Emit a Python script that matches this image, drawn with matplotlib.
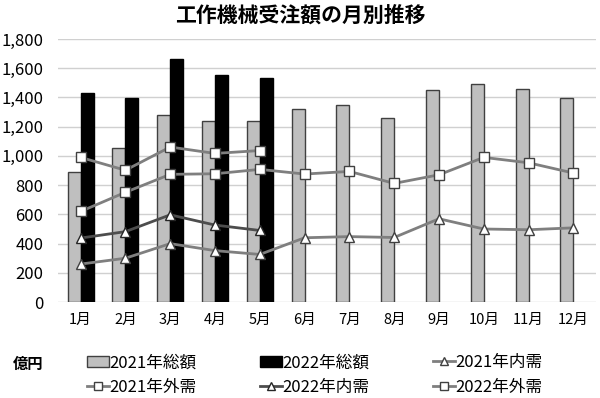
import numpy as np
import matplotlib
matplotlib.use('Agg')
import matplotlib.pyplot as plt

plt.rcParams['font.family'] = ['Noto Sans CJK JP', 'DejaVu Sans']

months = ['1月', '2月', '3月', '4月', '5月', '6月', '7月', '8月', '9月', '10月', '11月', '12月']
total_2021 = [890, 1055, 1280, 1240, 1240, 1320, 1350, 1260, 1450, 1495, 1455, 1395]
total_2022 = [1430, 1395, 1665, 1553, 1535]
domestic_2021 = [260, 300, 400, 352, 326, 440, 448, 442, 570, 500, 495, 508]
domestic_2022 = [438, 482, 597, 527, 490]
foreign_2021 = [620, 751, 874, 878, 908, 876, 894, 812, 871, 990, 953, 883]
foreign_2022 = [990, 902, 1061, 1017, 1037]
yticks = [0, 200, 400, 600, 800, 1000, 1200, 1400, 1600, 1800]

fig = plt.figure(figsize=(6, 3.98), dpi=100)
ax = fig.add_axes([0.097, 0.241, 0.896, 0.661])

x = np.arange(len(months))
x22 = np.arange(len(total_2022))
w = 0.29

b1 = ax.bar(x - w / 2, total_2021, w, color='#bfbfbf', edgecolor='#404040', linewidth=1, label='2021年総額', zorder=2)
b2 = ax.bar(x22 + w / 2, total_2022, w, color='black', edgecolor='black', linewidth=1, label='2022年総額', zorder=2)

mk = dict(markerfacecolor='white', markersize=6.5, linewidth=2, zorder=3)
l1, = ax.plot(x, domestic_2021, color='#7f7f7f', marker='^', markeredgecolor='#404040', label='2021年内需', **mk)
l2, = ax.plot(x, foreign_2021, color='#7f7f7f', marker='s', markeredgecolor='#404040', label='2021年外需', **mk)
l3, = ax.plot(x22, domestic_2022, color='#4d4d4d', marker='^', markeredgecolor='#262626', label='2022年内需', **mk)
l4, = ax.plot(x22, foreign_2022, color='#7f7f7f', marker='s', markeredgecolor='#404040', label='2022年外需', **mk)

ax.set_xlim(-0.5, 11.5)
ax.set_ylim(0, 1800)
ax.set_yticks(yticks)
ax.set_yticklabels([f'{v:,}' for v in yticks], fontsize=12)
ax.set_xticks(x)
ax.set_xticklabels(months, fontsize=10.5)
ax.tick_params(length=0, pad=8)
ax.tick_params(axis='y', pad=10.5)
ax.grid(axis='y', color='#d0d0d0', linewidth=1, zorder=0)
ax.set_axisbelow(True)
for s in ax.spines.values():
    s.set_visible(False)

fig.text(0.5, 0.963, '工作機械受注額の月別推移', ha='center', va='center', fontsize=15, fontweight='bold')
fig.text(0.022, 0.085, '億円', ha='left', va='center', fontsize=11, fontweight='bold')

# one legend per column so the columns sit where the reference has them
columns = [[b1, l2], [b2, l3], [l1, l4]]
col_x = [87, 260, 433]
for hs, cx in zip(columns, col_x):
    fig.legend(hs, [h.get_label() for h in hs], loc='center left',
               bbox_to_anchor=(cx / 600, 1 - 375 / 398), frameon=False,
               fontsize=12, handlelength=1.3, handletextpad=0.05,
               labelspacing=0.45, borderpad=0, borderaxespad=0, markerscale=0.85)

fig.savefig('out.png', dpi=100)
